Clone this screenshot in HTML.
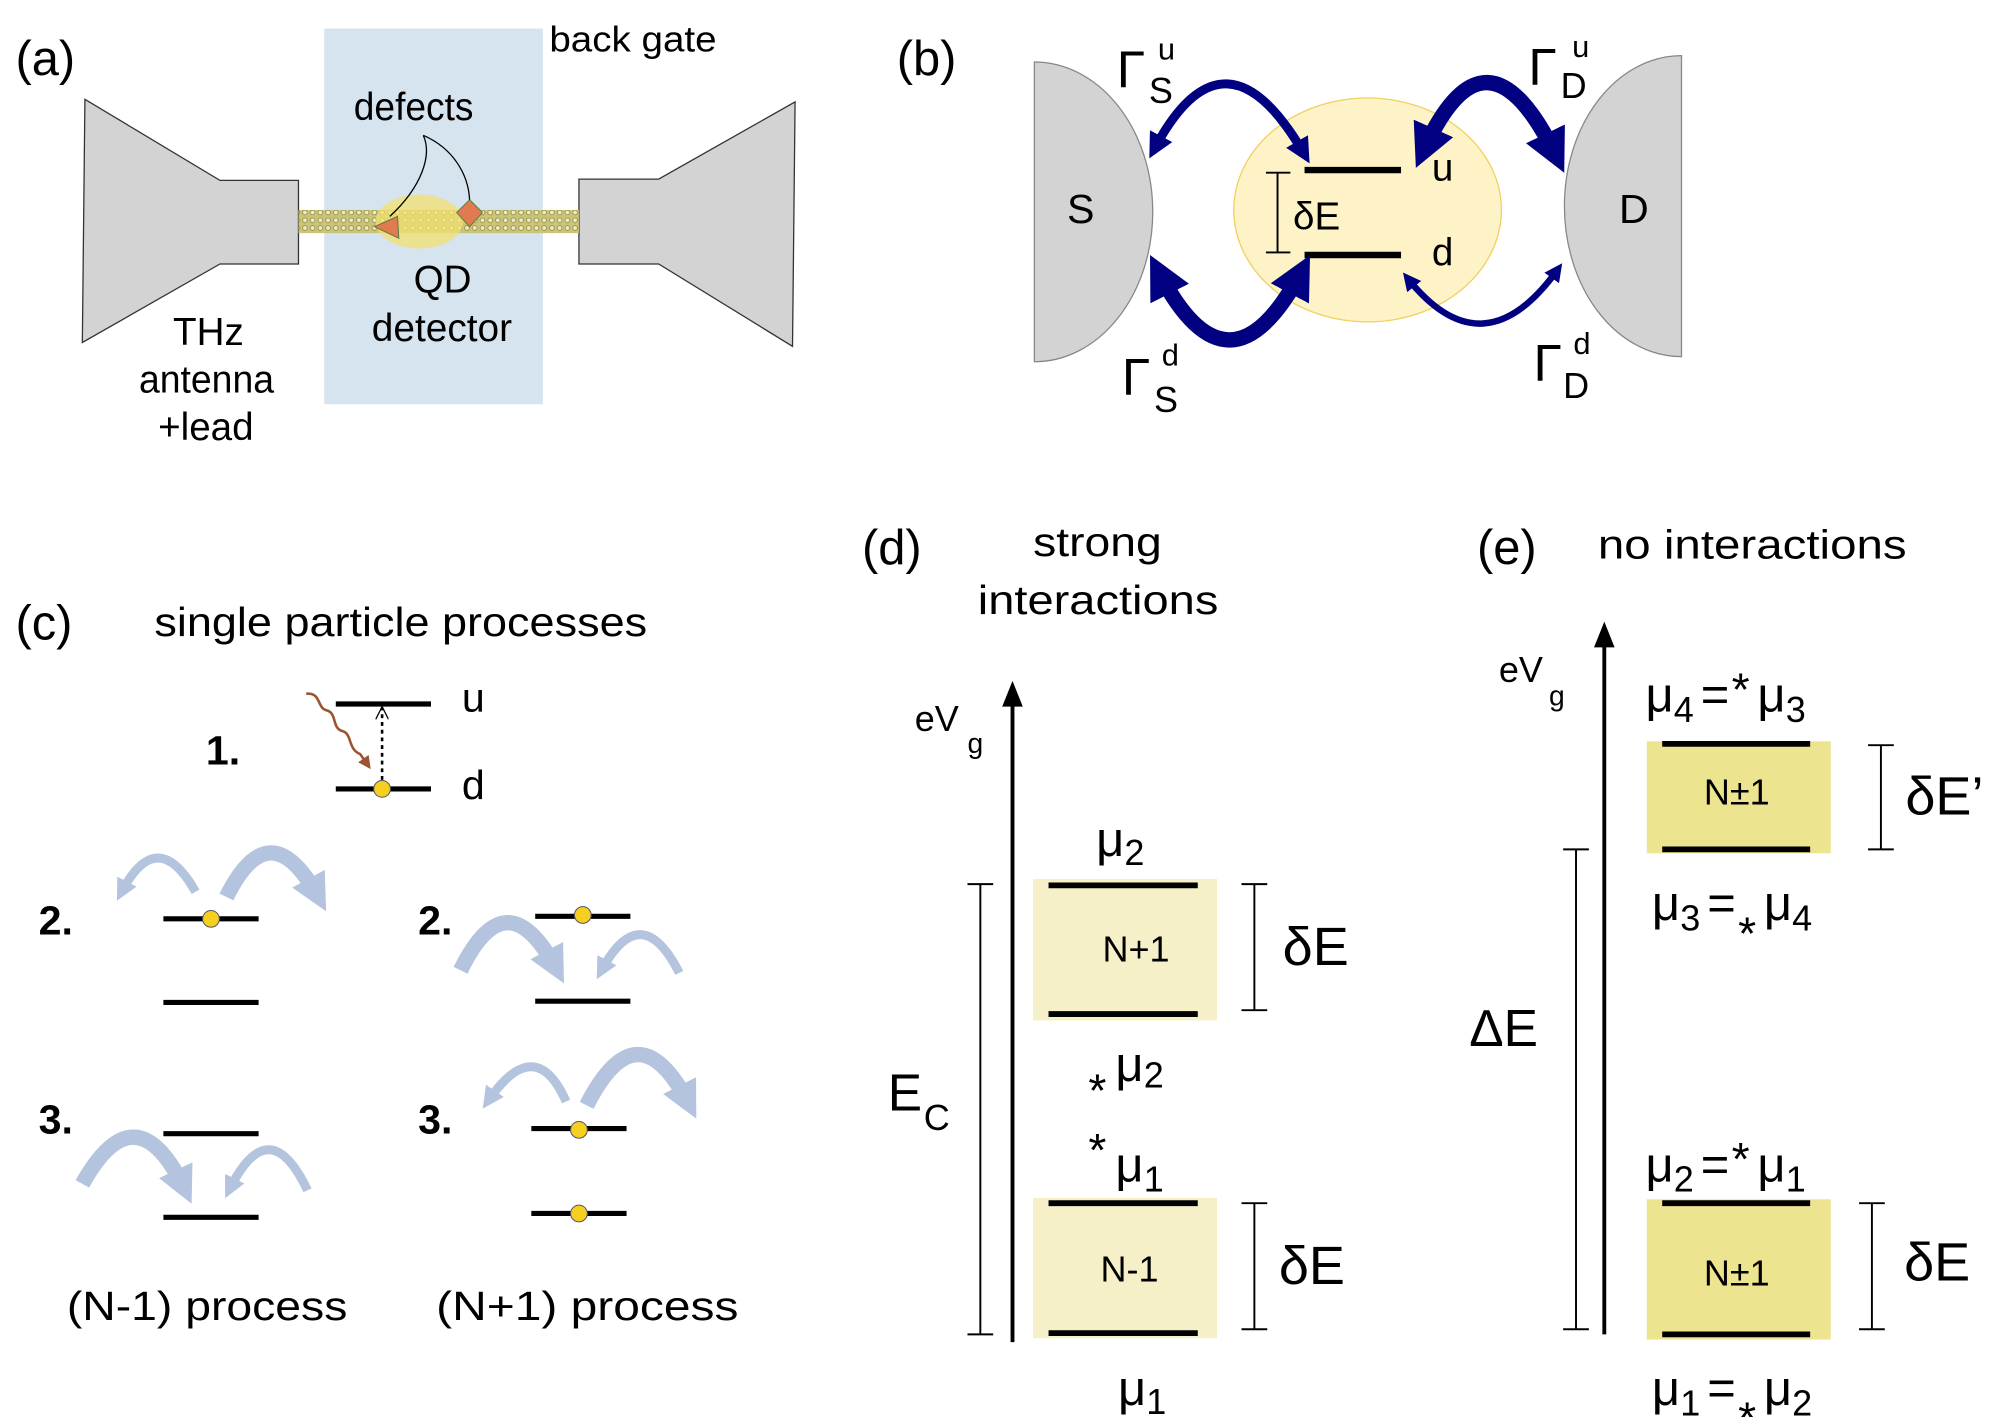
<!DOCTYPE html>
<html><head><meta charset="utf-8"><style>
html,body{margin:0;padding:0;background:#fff}
svg{display:block}
text{font-family:"Liberation Sans","DejaVu Sans",sans-serif;fill:#000}
</style></head><body>
<svg width="2007" height="1417" viewBox="0 0 1560 1101" xmlns="http://www.w3.org/2000/svg">
<defs>
<marker id="nh" viewBox="0 0 10 10" refX="6" refY="5" markerWidth="2.8" markerHeight="2.8" orient="auto-start-reverse"><path d="M0,0 L10,5 L0,10 z" fill="#000080"/></marker>
<marker id="bh" viewBox="0 0 10 10" refX="6" refY="5" markerWidth="2.4" markerHeight="2.4" orient="auto"><path d="M0,0 L10,5 L0,10 z" fill="#b4c4de"/></marker>
<marker id="brh" viewBox="0 0 10 10" refX="8" refY="5" markerWidth="5" markerHeight="5" orient="auto"><path d="M0,0 L10,5 L0,10 z" fill="#9a5530"/></marker>
<marker id="oh" viewBox="0 0 10 10" refX="9" refY="5" markerWidth="10" markerHeight="10" orient="auto" markerUnits="userSpaceOnUse"><path d="M0,0 L10,5 L0,10" fill="none" stroke="#000" stroke-width="1"/></marker>
<pattern id="tube" width="6" height="6" patternUnits="userSpaceOnUse"><rect width="6" height="6" fill="#c9c47a"/><circle cx="3" cy="3" r="1.8" fill="#eeeacc" stroke="#8a8630" stroke-width="0.6"/></pattern>
</defs>

<!-- (a) -->
<rect x="252" y="22" width="170" height="292" fill="#d6e4ef"/>
<text x="12" y="58" font-size="38">(a)</text>
<text x="427" y="40" font-size="28" textLength="130" lengthAdjust="spacingAndGlyphs">back gate</text>
<polygon points="66,77 171,140 232,140 232,205 171,205 64,266" fill="#d3d3d3" stroke="#333" stroke-width="1"/>
<polygon points="450,139 512,139 618,79 616,269 512,205 450,205" fill="#d3d3d3" stroke="#333" stroke-width="1"/>
<rect x="232" y="163" width="218" height="18" fill="url(#tube)"/>
<ellipse cx="326" cy="172" rx="34" ry="21" fill="#f2e070" fill-opacity="0.75"/>
<polygon points="291,176 309,168 310,185" fill="#e07b50" stroke="#6a7a40" stroke-width="0.8"/>
<polygon points="365,155 375,165 365,176 355,165" fill="#e07b50" stroke="#6a7a40" stroke-width="0.8"/>
<path d="M329,105 C336,120 328,145 303,168" fill="none" stroke="#000" stroke-width="1"/>
<path d="M329,105 C352,115 364,135 365,155" fill="none" stroke="#000" stroke-width="1"/>
<text x="275" y="93" font-size="30" textLength="93" lengthAdjust="spacingAndGlyphs">defects</text>
<text x="344" y="227" font-size="30" text-anchor="middle">QD</text>
<text x="289" y="265" font-size="30" textLength="109" lengthAdjust="spacingAndGlyphs">detector</text>
<text x="162" y="268" font-size="30" text-anchor="middle">THz</text>
<text x="108" y="305" font-size="30" textLength="105" lengthAdjust="spacingAndGlyphs">antenna</text>
<text x="160" y="342" font-size="30" text-anchor="middle">+lead</text>

<!-- (b) -->
<text x="697" y="58" font-size="38">(b)</text>
<path d="M804,48 A92 116.5 0 0 1 804,281 Z" fill="#d3d3d3" stroke="#888" stroke-width="1"/>
<path d="M1307,43 A91 117 0 0 0 1307,277 Z" fill="#d3d3d3" stroke="#888" stroke-width="1"/>
<ellipse cx="1063" cy="163" rx="104" ry="87" fill="#fdf3c6" stroke="#f0d060" stroke-width="1"/>
<text x="840" y="173" font-size="32" text-anchor="middle">S</text>
<text x="1270" y="173" font-size="32" text-anchor="middle">D</text>
<line x1="1014" y1="132" x2="1089" y2="132" stroke="#000" stroke-width="5"/>
<line x1="1014" y1="198" x2="1089" y2="198" stroke="#000" stroke-width="5"/>
<line x1="993" y1="134" x2="993" y2="196" stroke="#000" stroke-width="1.5"/>
<line x1="984" y1="134" x2="1003" y2="134" stroke="#000" stroke-width="1.5"/>
<line x1="984" y1="196" x2="1003" y2="196" stroke="#000" stroke-width="1.5"/>
<text x="1005" y="178" font-size="30">δE</text>
<text x="1113" y="140" font-size="30">u</text>
<text x="1113" y="206" font-size="30">d</text>
<path d="M897,116 Q952,12 1014,120" fill="none" stroke="#000080" stroke-width="7" marker-start="url(#nh)" marker-end="url(#nh)"/>
<path d="M1106,118 Q1155,8 1210,122" fill="none" stroke="#000080" stroke-width="12" marker-start="url(#nh)" marker-end="url(#nh)"/>
<path d="M900,210 Q955,318 1012,210" fill="none" stroke="#000080" stroke-width="12" marker-start="url(#nh)" marker-end="url(#nh)"/>
<path d="M1094,216 Q1153,290 1211,209" fill="none" stroke="#000080" stroke-width="5" marker-start="url(#nh)" marker-end="url(#nh)"/>
<text x="868" y="68" font-size="40">Γ</text><text x="900" y="46" font-size="24">u</text><text x="893" y="80" font-size="28">S</text>
<text x="1188" y="66" font-size="40">Γ</text><text x="1222" y="44" font-size="24">u</text><text x="1213" y="76" font-size="28">D</text>
<text x="872" y="307" font-size="40">Γ</text><text x="903" y="284" font-size="24">d</text><text x="897" y="320" font-size="28">S</text>
<text x="1192" y="296" font-size="40">Γ</text><text x="1223" y="275" font-size="24">d</text><text x="1215" y="309" font-size="28">D</text>

<!-- (c) -->
<text x="12" y="497" font-size="38">(c)</text>
<text x="120" y="494" font-size="32" textLength="383" lengthAdjust="spacingAndGlyphs">single particle processes</text>
<text x="160" y="594" font-size="32" font-weight="bold">1.</text>
<line x1="261" y1="547" x2="335" y2="547" stroke="#000" stroke-width="4"/>
<line x1="261" y1="613" x2="335" y2="613" stroke="#000" stroke-width="4"/>
<line x1="297" y1="606" x2="297" y2="550" stroke="#000" stroke-width="2" stroke-dasharray="3,3" marker-end="url(#oh)"/>
<circle cx="297" cy="613" r="6.5" fill="#f5d020" stroke="#556" stroke-width="0.8"/>
<path d="M238,539 C250,538 246,550 254,552 C262,554 258,566 266,568 C274,570 270,582 280,586 L287,596" fill="none" stroke="#9a5530" stroke-width="2" marker-end="url(#brh)"/>
<text x="359" y="553" font-size="32">u</text>
<text x="359" y="621" font-size="32">d</text>

<text x="30" y="726" font-size="32" font-weight="bold">2.</text>
<text x="30" y="881" font-size="32" font-weight="bold">3.</text>
<text x="325" y="726" font-size="32" font-weight="bold">2.</text>
<text x="325" y="881" font-size="32" font-weight="bold">3.</text>

<g stroke="#000" stroke-width="4">
<line x1="127" y1="714" x2="201" y2="714"/><line x1="127" y1="779" x2="201" y2="779"/>
<line x1="127" y1="881" x2="201" y2="881"/><line x1="127" y1="946" x2="201" y2="946"/>
<line x1="416" y1="712" x2="490" y2="712"/><line x1="416" y1="778" x2="490" y2="778"/>
<line x1="413" y1="877" x2="487" y2="877"/><line x1="413" y1="943" x2="487" y2="943"/>
</g>
<g fill="#f5d020" stroke="#556" stroke-width="0.8">
<circle cx="164" cy="714" r="6.5"/><circle cx="453" cy="711" r="6.5"/>
<circle cx="450" cy="878" r="6.5"/><circle cx="450" cy="943" r="6.5"/>
</g>
<g fill="none" stroke="#b4c4de">
<path d="M152,693 Q122,640 94,694" stroke-width="7" marker-end="url(#bh)"/>
<path d="M176,697 Q210,628 248,698" stroke-width="12" marker-end="url(#bh)"/>
<path d="M64,920 Q106,845 144,925" stroke-width="12" marker-end="url(#bh)"/>
<path d="M239,925 Q209,862 178,925" stroke-width="7" marker-end="url(#bh)"/>
<path d="M358,754 Q394,680 433,754" stroke-width="12" marker-end="url(#bh)"/>
<path d="M528,756 Q498,697 467,755" stroke-width="7" marker-end="url(#bh)"/>
<path d="M440,856 Q416,802 379,856" stroke-width="7" marker-end="url(#bh)"/>
<path d="M456,859 Q496,780 536,859" stroke-width="12" marker-end="url(#bh)"/>
</g>
<text x="52" y="1026" font-size="32" textLength="218" lengthAdjust="spacingAndGlyphs">(N-1) process</text>
<text x="339" y="1026" font-size="32" textLength="235" lengthAdjust="spacingAndGlyphs">(N+1) process</text>

<!-- (d) -->
<text x="670" y="438" font-size="38">(d)</text>
<text x="803" y="432" font-size="32" textLength="100" lengthAdjust="spacingAndGlyphs">strong</text>
<text x="760" y="477" font-size="32" textLength="187" lengthAdjust="spacingAndGlyphs">interactions</text>
<text x="711" y="568" font-size="28">eV</text><text x="752" y="585" font-size="22">g</text>
<line x1="787" y1="1043" x2="787" y2="545" stroke="#000" stroke-width="3"/>
<polygon points="787,529 779,549 795,549" fill="#000"/>
<g stroke="#000" stroke-width="1.5">
<line x1="762" y1="687" x2="762" y2="1037"/><line x1="752" y1="687" x2="772" y2="687"/><line x1="752" y1="1037" x2="772" y2="1037"/>
<line x1="975" y1="687" x2="975" y2="785"/><line x1="965" y1="687" x2="985" y2="687"/><line x1="965" y1="785" x2="985" y2="785"/>
<line x1="975" y1="935" x2="975" y2="1033"/><line x1="965" y1="935" x2="985" y2="935"/><line x1="965" y1="1033" x2="985" y2="1033"/>
</g>
<text x="690" y="863" font-size="40">E</text><text x="718" y="878" font-size="28">C</text>
<rect x="803" y="683" width="143" height="110" fill="#f5f0c8"/>
<rect x="803" y="931" width="143" height="109" fill="#f5f0c8"/>
<g stroke="#000" stroke-width="4.5">
<line x1="815" y1="688" x2="931" y2="688"/><line x1="815" y1="788" x2="931" y2="788"/>
<line x1="815" y1="935" x2="931" y2="935"/><line x1="815" y1="1036" x2="931" y2="1036"/>
</g>
<text x="883" y="747" font-size="28" text-anchor="middle">N+1</text>
<text x="878" y="996" font-size="28" text-anchor="middle">N-1</text>
<text x="997" y="750" font-size="42">δE</text>
<text x="994" y="998" font-size="42">δE</text>
<text x="852" y="665" font-size="38">μ</text><text x="874" y="672" font-size="28">2</text>
<text x="846" y="860" font-size="36">*</text><text x="867" y="840" font-size="38">μ</text><text x="889" y="845" font-size="28">2</text>
<text x="846" y="906" font-size="36">*</text><text x="867" y="918" font-size="38">μ</text><text x="889" y="926" font-size="28">1</text>
<text x="869" y="1092" font-size="38">μ</text><text x="891" y="1099" font-size="28">1</text>

<!-- (e) -->
<text x="1148" y="438" font-size="38">(e)</text>
<text x="1242" y="434" font-size="32" textLength="240" lengthAdjust="spacingAndGlyphs">no interactions</text>
<text x="1165" y="530" font-size="28">eV</text><text x="1204" y="548" font-size="22">g</text>
<line x1="1247" y1="1037" x2="1247" y2="500" stroke="#000" stroke-width="3"/>
<polygon points="1247,483 1239,503 1255,503" fill="#000"/>
<g stroke="#000" stroke-width="1.5">
<line x1="1225" y1="660" x2="1225" y2="1033"/><line x1="1215" y1="660" x2="1235" y2="660"/><line x1="1215" y1="1033" x2="1235" y2="1033"/>
<line x1="1462" y1="579" x2="1462" y2="660"/><line x1="1452" y1="579" x2="1472" y2="579"/><line x1="1452" y1="660" x2="1472" y2="660"/>
<line x1="1455" y1="935" x2="1455" y2="1033"/><line x1="1445" y1="935" x2="1465" y2="935"/><line x1="1445" y1="1033" x2="1465" y2="1033"/>
</g>
<text x="1142" y="813" font-size="40">ΔE</text>
<rect x="1280" y="576" width="143" height="87" fill="#ede490"/>
<rect x="1280" y="932" width="143" height="109" fill="#ede490"/>
<g stroke="#000" stroke-width="4.5">
<line x1="1292" y1="578" x2="1407" y2="578"/><line x1="1292" y1="660" x2="1407" y2="660"/>
<line x1="1292" y1="935" x2="1407" y2="935"/><line x1="1292" y1="1037" x2="1407" y2="1037"/>
</g>
<text x="1350" y="625" font-size="28" text-anchor="middle">N±1</text>
<text x="1350" y="999" font-size="28" text-anchor="middle">N±1</text>
<text x="1481" y="633" font-size="42">δE’</text>
<text x="1480" y="995" font-size="42">δE</text>
<text x="1279" y="553" font-size="38">μ</text><text x="1301" y="561" font-size="28">4</text><text x="1322" y="553" font-size="38">=</text><text x="1346" y="548" font-size="36">*</text><text x="1366" y="553" font-size="38">μ</text><text x="1388" y="561" font-size="28">3</text>
<text x="1284" y="715" font-size="38">μ</text><text x="1306" y="723" font-size="28">3</text><text x="1327" y="715" font-size="38">=</text><text x="1351" y="738" font-size="36">*</text><text x="1371" y="715" font-size="38">μ</text><text x="1393" y="723" font-size="28">4</text>
<text x="1279" y="918" font-size="38">μ</text><text x="1301" y="926" font-size="28">2</text><text x="1322" y="918" font-size="38">=</text><text x="1346" y="913" font-size="36">*</text><text x="1366" y="918" font-size="38">μ</text><text x="1388" y="926" font-size="28">1</text>
<text x="1284" y="1092" font-size="38">μ</text><text x="1306" y="1100" font-size="28">1</text><text x="1327" y="1092" font-size="38">=</text><text x="1351" y="1115" font-size="36">*</text><text x="1371" y="1092" font-size="38">μ</text><text x="1393" y="1100" font-size="28">2</text>
</svg>
</body></html>
